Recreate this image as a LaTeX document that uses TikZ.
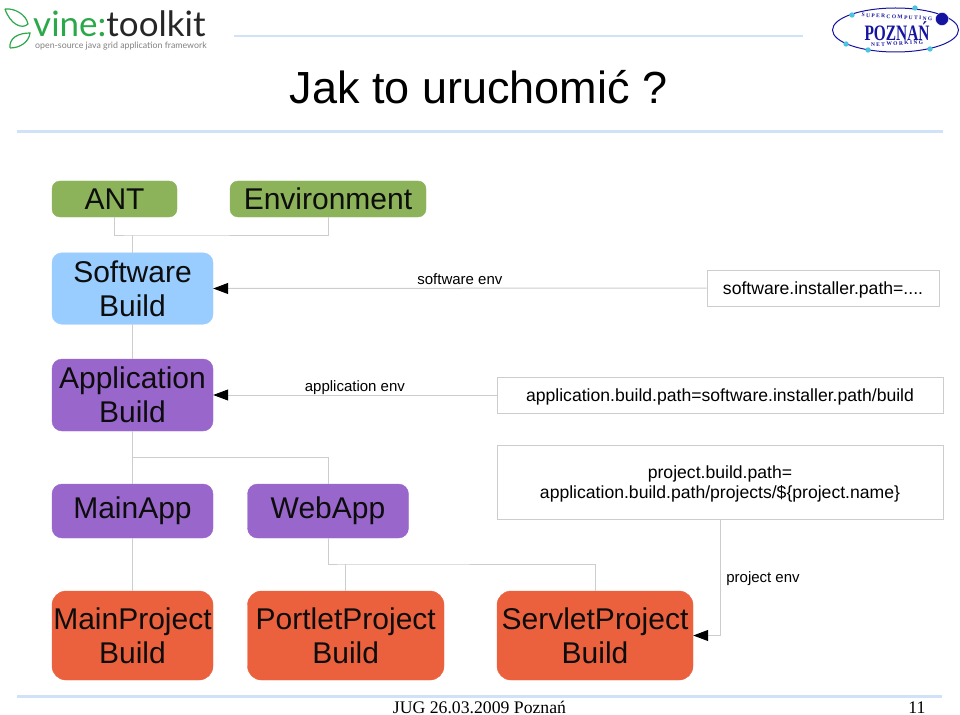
\documentclass[tikz,border=0pt]{standalone}
\usepackage{fontspec}
\setmainfont{Liberation Sans}
\newfontfamily\timesfont{Liberation Serif}
\newfontfamily\logofont{Lato}
\usetikzlibrary{arrows.meta}
\definecolor{antgreen}{HTML}{8DB35A}
\definecolor{softblue}{HTML}{99CCFF}
\definecolor{apppurple}{HTML}{9966CC}
\definecolor{projorange}{HTML}{EB613D}
\definecolor{wiregray}{HTML}{CDCDCD}
\definecolor{rulecolor}{HTML}{CFE2F8}
\definecolor{vinegreen}{HTML}{2BA84A}
\definecolor{poznanblue}{HTML}{1414A0}
\definecolor{poznandot}{HTML}{4CC4E0}
\tikzset{
	buildbox/.style={inner sep=0pt, align=center, text=black!95, font=\fontsize{30}{33.7}\selectfont, draw=#1, line width=.4pt, fill=#1},
	pathbox/.style={draw=wiregray, line width=1pt, inner sep=0pt, align=center, text depth=0pt, font=\fontsize{17.6}{19.6}\selectfont},
	wire/.style={draw=wiregray, line width=1pt},
	envwire/.style={wire, -{Triangle[length=15pt,width=11pt,color=black]}},
	envlabel/.style={inner sep=0pt, text height=11pt, text depth=3pt, font=\fontsize{15}{17}\selectfont},
	toprule/.style={draw=rulecolor, line width=#1}
}
\begin{document}
\begin{tikzpicture}[x=1pt,y=-1pt]
	\useasboundingbox (0,0) rectangle (960,714);

	% rules
	\draw[toprule=1.5pt] (234,36) -- (803,36);
	\draw[toprule=3.5pt] (17,131.5) -- (943,131.5);
	\draw[toprule=3.5pt] (17,696.5) -- (942,696.5);

	% vine logo
	\draw[vinegreen, line width=1.2pt] (5,9) .. controls (14,8) and (26,14) .. (28,24) .. controls (22,30) and (10,24) .. (5,9);
	\draw[vinegreen, line width=1.2pt] (10,48) .. controls (9,38) and (18,33) .. (30,33) .. controls (29,42) and (20,48) .. (10,48);
	\node[anchor=base west, inner sep=0pt] (vinename) at (33,37) {\logofont\fontsize{35}{35}\selectfont\textcolor{vinegreen}{vine:}\textcolor{black!85}{toolkit}};
	\node[anchor=base west, inner sep=0pt] (vinesub) at (35,48.5) {\logofont\fontsize{8.8}{10}\selectfont\textcolor{black!50}{open-source java grid application framework}};

	% poznan logo
	\draw[poznanblue, line width=1pt] (895.5,30) ellipse (63 and 22);
	\node[inner sep=0pt, text=poznanblue, xscale=.7] (poznan) at (897,31) {\timesfont\bfseries\fontsize{22}{22}\selectfont POZNAŃ};
	\node[inner sep=0pt, text=poznanblue, rotate=-3] (poznantop) at (897,17) {\timesfont\bfseries\fontsize{5.5}{6}\selectfont S U P E R C O M P U T I N G};
	\node[inner sep=0pt, text=poznanblue, rotate=3] (poznanbottom) at (897,43.5) {\timesfont\bfseries\fontsize{5.5}{6}\selectfont N E T W O R K I N G};
	\foreach \dotx/\doty in {852/15, 915/8, 846/44, 868/50, 930/49}
		\fill[poznandot] (\dotx,\doty) circle (2.7);
	\draw[fill=poznanblue, draw=white, line width=.3pt] (942,19) circle (6.5);

	% title
	\node[inner sep=0pt] (title) at (478.5,87) {\fontsize{45}{45}\selectfont Jak to uruchomić ?};

	% boxes
	\node[buildbox=antgreen, rounded corners=8pt, minimum width=125pt, minimum height=36pt] (ant) at (114.5,199) {ANT};
	\node[buildbox=antgreen, rounded corners=8pt, minimum width=196pt, minimum height=36pt] (env) at (328,199) {Environment};
	\node[buildbox=softblue, rounded corners=10pt, minimum width=161pt, minimum height=71.5pt] (software) at (132.5,288.5) {Software\\Build};
	\node[buildbox=apppurple, rounded corners=10pt, minimum width=161pt, minimum height=72pt] (application) at (132.5,395) {Application\\Build};
	\node[buildbox=apppurple, rounded corners=10pt, minimum width=161pt, minimum height=54pt] (mainapp) at (132.5,511) {MainApp};
	\node[buildbox=apppurple, rounded corners=10pt, minimum width=161pt, minimum height=54pt] (webapp) at (328,511) {WebApp};
	\node[buildbox=projorange, rounded corners=14pt, minimum width=161pt, minimum height=89pt] (mainproject) at (132.5,635.5) {MainProject\\Build};
	\node[buildbox=projorange, rounded corners=14pt, minimum width=196.5pt, minimum height=89pt] (portlet) at (345.75,635.5) {PortletProject\\Build};
	\node[buildbox=projorange, rounded corners=14pt, minimum width=196pt, minimum height=89pt] (servlet) at (595,635.5) {ServletProject\\Build};

	\node[pathbox, minimum width=232pt, minimum height=36pt] (softpath) at (823,288) {software.installer.path=....};
	\node[pathbox, minimum width=446pt, minimum height=36pt] (apppath) at (720,395) {application.build.path=software.installer.path/build};
	\node[pathbox, minimum width=446pt, minimum height=74pt] (projpath) at (720,482) {project.build.path=\\application.build.path/projects/\$\{project.name\}};

	% joins
	\coordinate (antjoin) at (132.5,235);
	\coordinate (appjoin) at (132.5,457);
	\coordinate (webjoin) at (345.75,564);

	% tree
	\draw[wire] (ant.south) |- (antjoin) -| (env.south);
	\draw[wire] (antjoin) -- (software.north);
	\draw[wire] (software.south) -- (application.north);
	\draw[wire] (application.south) -- (mainapp.north);
	\draw[wire] (appjoin) -| (webapp.north);
	\draw[wire] (mainapp.south) -- (mainproject.north);
	\draw[wire] (webapp.south) |- (webjoin) -| (servlet.north);
	\draw[wire] (webjoin) -- (portlet.north);

	% env arrows
	\draw[envwire] (softpath.west) -- node[above=0pt, envlabel] (softenv) {software env} (software.east);
	\draw[envwire] (apppath.west) -- node[above=0pt, envlabel] (appenv) {application env} (application.east);
	\draw[envwire] (projpath.south) |- (servlet.east);
	\node[envlabel] (projenv) at (763,578) {project env};

	% footer
	\node[anchor=base, inner sep=0pt] (footer) at (479.5,713.5) {\timesfont\fontsize{17.7}{18}\selectfont JUG 26.03.2009 Poznań};
	\node[anchor=base, inner sep=0pt] (pagenum) at (917,713.5) {\timesfont\fontsize{17.7}{18}\selectfont 11};
\end{tikzpicture}
\end{document}
